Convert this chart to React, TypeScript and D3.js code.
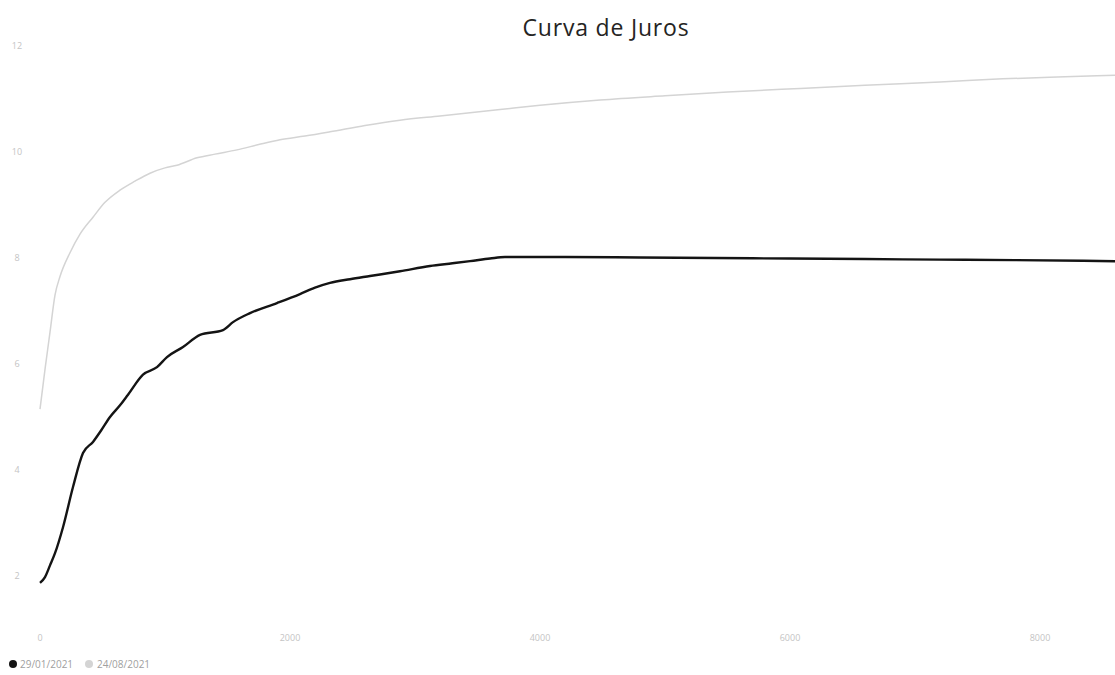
import React from "react";
import * as d3 from "d3";

// prazo em dias úteis / taxa (%)
const prazo2901 = [0, 40, 80, 120, 184, 264, 344, 424, 490, 560, 640, 704, 824, 936, 1016, 1144, 1280, 1464, 1544, 1680, 1896, 2080, 2200, 2320, 2480, 2640, 2880, 3120, 3300, 3440, 3600, 3720, 4200, 4800, 5400, 6000, 6600, 7200, 7800, 8600];
const taxa2901 = [1.87, 1.98, 2.2, 2.43, 2.92, 3.68, 4.32, 4.53, 4.75, 5.0, 5.22, 5.42, 5.8, 5.94, 6.13, 6.32, 6.55, 6.64, 6.79, 6.96, 7.15, 7.32, 7.44, 7.53, 7.6, 7.66, 7.75, 7.85, 7.9, 7.94, 7.99, 8.02, 8.02, 8.01, 8.0, 7.99, 7.98, 7.97, 7.96, 7.94];

const prazo2408 = [0, 40, 80, 120, 160, 240, 320, 424, 520, 640, 760, 880, 1000, 1096, 1256, 1400, 1576, 1750, 1920, 2120, 2320, 2600, 2880, 3200, 3680, 4000, 4480, 5000, 5500, 6080, 6600, 7200, 7700, 8200, 8600];
const taxa2408 = [5.15, 5.9, 6.6, 7.3, 7.65, 8.1, 8.45, 8.77, 9.05, 9.28, 9.45, 9.6, 9.7, 9.75, 9.89, 9.96, 10.04, 10.14, 10.23, 10.3, 10.38, 10.5, 10.6, 10.68, 10.8, 10.88, 10.98, 11.06, 11.13, 11.2, 11.26, 11.32, 11.38, 11.42, 11.45];

const xTicks = [0, 2000, 4000, 6000, 8000];
const yTicks = [2, 4, 6, 8, 10, 12];

const series = [
  { nome: "29/01/2021", prazo: prazo2901, taxa: taxa2901, cor: "#141414", largura: 2.4 },
  { nome: "24/08/2021", prazo: prazo2408, taxa: taxa2408, cor: "#d4d4d4", largura: 1.5 },
];

const width = 1115;
const height = 675;
const font = "'Segoe UI', 'Open Sans', 'Noto Sans', sans-serif";

export default function App() {
  const x = d3.scaleLinear().domain([0, 8600]).range([40, 1115]);
  const y = d3.scaleLinear().domain([2, 12]).range([576, 46]);

  const line = d3
    .line<[number, number]>()
    .x((d) => x(d[0]))
    .y((d) => y(d[1]))
    .curve(d3.curveMonotoneX);

  return (
    <div style={{ position: "absolute", left: 0, top: 0, background: "#fff" }}>
      <svg width={width} height={height} style={{ display: "block" }}>
        <rect width={width} height={height} fill="#fff" />
        <text x={606} y={36} textAnchor="middle" fontFamily={font} fontSize={23} letterSpacing={0.8} fill="#252423">
          Curva de Juros
        </text>

        {/* eixo y */}
        {yTicks.map((t) => (
          <text key={t} x={17} y={y(t) + 3} textAnchor="middle" fontFamily={font} fontSize={9} fill="#c4c4c4">
            {t}
          </text>
        ))}

        {/* eixo x */}
        {xTicks.map((t) => (
          <text key={t} x={x(t)} y={641} textAnchor="middle" fontFamily={font} fontSize={9} fill="#c4c4c4">
            {t}
          </text>
        ))}

        {/* curvas */}
        {series
          .slice()
          .reverse()
          .map((s) => (
            <path
              key={s.nome}
              d={line(s.prazo.map((p, i) => [p, s.taxa[i]] as [number, number])) || ""}
              fill="none"
              stroke={s.cor}
              strokeWidth={s.largura}
              strokeLinejoin="round"
            />
          ))}

        {/* legenda */}
        <g fontFamily={font} fontSize={10} fill="#a0a0a0">
          <circle cx={13} cy={664} r={4} fill="#141414" />
          <text x={20} y={668}>29/01/2021</text>
          <circle cx={89} cy={664} r={4} fill="#d4d4d4" />
          <text x={97} y={668}>24/08/2021</text>
        </g>
      </svg>
    </div>
  );
}
